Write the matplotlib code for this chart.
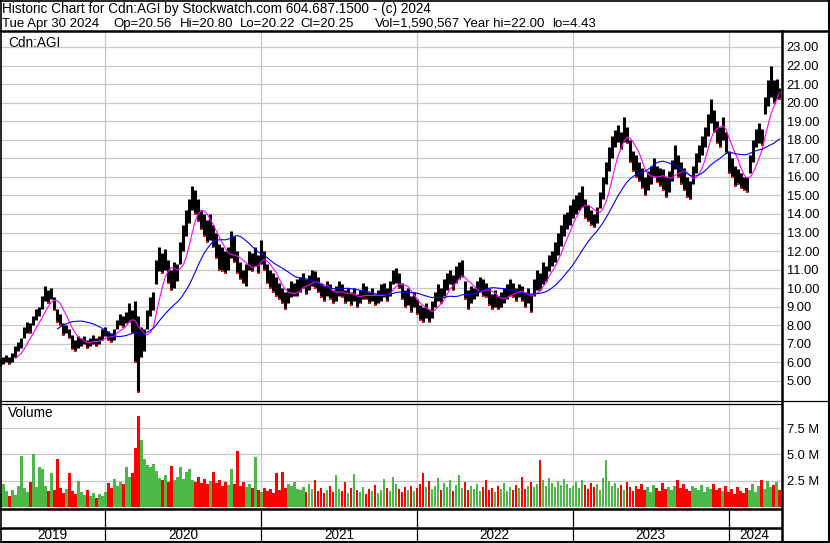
import numpy as np
import pandas as pd
import matplotlib
matplotlib.use('Agg')
import matplotlib.pyplot as plt
import matplotlib.dates as mdates
from matplotlib.lines import Line2D

W, H = 830, 543

title_line = 'Historic Chart for Cdn:AGI by Stockwatch.com 604.687.1500 - (c) 2024'
info_items = ['Tue Apr 30 2024', 'Op=20.56', 'Hi=20.80', 'Lo=20.22', 'Cl=20.25',
              'Vol=1,590,567', 'Year hi=22.00', 'lo=4.43']
info_px = [2, 113, 180, 240, 300, 375, 463, 552]
symbol = 'Cdn:AGI'

# weekly highs / lows (May 2019 .. Apr 2024)
high = [6.2, 6.3, 6.4, 6.3, 6.5, 6.9, 7.1, 7.3, 7.9, 8.2, 8.1, 8.5, 8.9, 9.0, 9.6, 10.1, 9.9, 10.0,
        9.5, 8.9, 8.6, 8.1, 8.0, 7.8, 7.5, 7.2, 7.4, 7.3, 7.4, 7.2, 7.3, 7.5, 7.3, 7.4, 7.8, 7.9,
        7.7, 7.6, 7.8, 8.3, 8.6, 8.5, 8.7, 9.2, 8.8, 9.3, 8.5, 7.9, 7.8, 8.8, 9.5, 9.8,
        11.5, 12.2, 11.9, 12.1, 11.5, 11.0, 11.4, 11.3, 12.5, 13.4, 14.2, 14.8, 15.5, 15.3, 14.8,
        14.2, 14.0, 13.7, 14.0, 13.4, 13.0, 12.4, 12.2, 12.0, 12.2, 13.1, 12.8, 12.0, 11.4, 11.0,
        11.3, 12.0, 11.9, 12.2, 11.8, 12.6, 12.0, 11.3, 11.0, 10.8, 10.6, 10.3, 10.0, 9.8, 10.0,
        10.4, 10.3, 10.5,
        10.6, 10.8, 10.5, 10.7, 11.0, 10.9, 10.6, 10.3, 10.1, 10.4, 10.2, 9.9, 10.1, 10.4, 10.2,
        9.9, 10.0, 9.8, 10.0, 9.7, 9.9, 10.3, 10.1, 9.8, 10.0, 9.7, 9.9, 10.2, 10.3, 10.0, 10.4,
        11.0, 11.1, 10.8, 10.3, 9.9, 10.0, 9.6, 9.8,
        9.4, 9.1, 9.0, 9.2, 8.9, 9.3, 9.8, 10.2, 10.0, 10.5, 10.8, 11.0, 10.7, 11.2, 11.4, 11.5,
        10.4, 9.9, 10.1, 10.0, 10.4, 10.6, 10.5, 10.3, 10.0, 9.7, 9.9, 9.6, 9.8, 10.0, 10.2, 10.5,
        10.3, 10.0, 10.2, 10.1, 9.8, 10.0, 9.7, 10.5, 11.0, 10.8, 11.4, 11.2, 11.8, 12.0, 12.5,
        13.0, 13.4, 14.0, 14.1, 14.5,
        14.8, 15.0, 15.2, 15.5, 14.8, 14.5, 14.2, 14.0, 14.4, 15.2, 16.0, 16.8, 17.6, 18.2, 18.5,
        18.8, 18.4, 19.2, 18.7, 18.0, 17.4, 17.2, 16.8, 16.5, 16.0, 16.3, 16.6, 17.0, 16.6, 16.5,
        16.4, 16.0, 16.3, 16.9, 17.7, 17.2, 16.8, 16.5, 16.0, 15.8, 16.6, 17.3, 17.7, 18.2, 18.7,
        19.4, 20.2, 19.6, 19.0, 18.7, 19.2, 18.4, 17.4,
        17.0, 16.6, 16.4, 16.2, 16.0, 16.0, 17.2, 18.0, 18.6, 18.9, 18.6, 20.3, 21.2, 22.0, 21.2,
        21.3, 20.8]
low = [5.8, 5.9, 6.0, 5.9, 6.0, 6.3, 6.6, 6.8, 7.3, 7.6, 7.6, 8.0, 8.3, 8.5, 8.9, 9.3, 9.2, 9.4,
       8.8, 8.2, 8.0, 7.5, 7.6, 7.3, 6.7, 6.6, 6.8, 6.9, 7.0, 6.8, 6.9, 7.0, 6.9, 7.0, 7.2, 7.4,
       7.2, 7.1, 7.2, 7.8, 8.0, 7.9, 8.1, 8.2, 7.6, 6.0, 4.43, 6.3, 6.6, 7.8, 8.5, 8.8,
       10.2, 10.9, 10.8, 11.0, 10.3, 9.9, 10.0, 10.4, 11.3, 12.0, 12.8, 13.5, 14.2, 14.0, 13.6,
       13.2, 12.8, 12.5, 12.6, 12.2, 11.6, 11.0, 10.9, 10.8, 11.0, 11.6, 11.4, 10.8, 10.5, 10.3,
       10.1, 11.0, 10.9, 11.2, 10.8, 11.3, 11.0, 10.3, 10.0, 9.8, 9.6, 9.4, 9.2, 8.9, 9.2,
       9.5, 9.6, 9.6,
       9.8, 10.0, 9.7, 9.9, 10.1, 10.0, 9.8, 9.5, 9.3, 9.6, 9.4, 9.2, 9.3, 9.6, 9.5,
       9.2, 9.3, 9.1, 9.3, 9.0, 9.2, 9.4, 9.4, 9.2, 9.3, 9.1, 9.2, 9.3, 9.5, 9.3, 9.6,
       10.2, 10.3, 10.0, 9.4, 9.0, 9.1, 8.7, 9.0,
       8.6, 8.3, 8.2, 8.4, 8.2, 8.4, 9.0, 9.3, 9.2, 9.6, 9.9, 10.2, 9.9, 10.3, 10.5, 10.6,
       9.4, 8.9, 9.2, 9.4, 9.6, 9.8, 9.6, 9.5, 9.1, 8.9, 9.0, 8.9, 9.0, 9.2, 9.4, 9.6,
       9.5, 9.3, 9.5, 9.3, 9.0, 9.2, 8.7, 9.6, 9.9, 9.9, 10.2, 10.4, 10.9, 11.2, 11.4,
       11.8, 12.3, 12.8, 13.2, 13.4,
       13.8, 14.0, 14.2, 14.4, 13.8, 13.6, 13.4, 13.3, 13.5, 14.3, 14.8, 15.6, 16.3, 17.0, 17.6,
       17.9, 17.5, 17.9, 17.8, 16.8, 16.3, 16.0, 15.8, 15.4, 15.0, 15.3, 15.6, 16.0, 15.7, 15.5,
       15.3, 14.9, 15.2, 15.8, 16.4, 16.0, 15.6, 15.3, 14.9, 14.8, 15.6, 16.2, 16.8, 17.2, 17.6,
       18.2, 18.9, 18.4, 17.8, 17.6, 18.0, 17.3, 16.2,
       16.0, 15.5, 15.6, 15.4, 15.3, 15.2, 16.2, 16.8, 17.6, 17.8, 17.7, 19.4, 19.8, 20.3, 20.0,
       20.2, 20.2]

# weekly volume, millions of shares
volume_m = [1.2, 2.2, 1.5, 1.0, 1.6, 1.1, 2.0, 4.9, 1.8, 1.4, 2.4, 5.0, 1.9, 3.8, 3.6, 2.0, 1.5,
            3.2, 1.6, 4.6, 1.8, 1.3, 1.7, 3.2, 1.5, 1.2, 2.5, 1.4, 1.1, 1.6, 1.0, 1.3, 0.9, 1.2, 1.0,
            1.4, 2.3, 1.8, 2.7, 2.0, 2.4, 2.2, 3.8, 2.9, 3.2, 5.6, 8.7, 6.4, 4.6, 4.0, 3.8, 4.1,
            3.4, 2.8, 2.6, 3.0, 2.4, 3.9, 2.6, 2.9, 3.8, 2.7, 3.3, 3.6, 2.6, 2.4, 2.9, 2.3, 2.7,
            2.2, 2.5, 3.3, 2.3, 2.6, 2.0, 2.4, 2.1, 3.6, 2.2, 5.3, 2.0, 2.4, 1.9, 2.2, 1.8, 4.8,
            1.6, 1.4, 1.8, 1.5, 1.7, 1.3, 3.2, 1.6, 3.3, 1.8, 2.2, 2.0, 2.4, 1.7,
            1.6, 1.9, 1.4, 2.2, 1.7, 2.6, 1.5, 1.8, 1.3, 1.6, 2.0, 1.4, 3.0, 1.7, 1.5, 2.4, 1.3,
            1.8, 3.1, 1.6, 1.4, 1.9, 1.2, 1.7, 1.5, 2.1, 1.3, 1.6, 2.7, 1.8, 1.5, 2.9, 2.2, 1.7,
            1.4, 1.9, 1.6, 2.0, 1.5,
            1.8, 2.2, 3.2, 1.9, 2.5, 1.7, 2.0, 2.8, 1.6, 2.3, 1.9, 2.6, 1.5, 2.1, 3.0, 1.8, 2.4,
            1.6, 2.0, 1.7, 2.2, 1.5, 1.9, 2.6, 1.6, 1.8, 1.4, 2.0, 1.7, 2.3, 1.5, 1.9, 1.6, 2.1,
            1.8, 2.9, 1.7, 2.0, 2.4, 1.9, 2.2, 4.5, 2.6, 2.0, 2.8, 2.3, 1.9, 2.5, 2.1, 2.7, 2.2, 1.8,
            2.0, 2.4, 1.8, 2.6, 2.1, 1.7, 2.3, 1.9, 2.2, 1.6, 2.8, 4.5, 2.5, 2.0, 2.3, 1.8, 2.1,
            1.6, 2.4, 1.9, 1.5, 2.0, 1.7, 2.2, 1.6, 1.9, 1.4, 2.1, 1.8, 1.5, 2.3, 1.7, 1.9, 1.6,
            2.0, 2.6, 1.8, 2.2, 1.7, 1.5, 2.0, 1.8, 1.6, 2.1, 1.4, 1.9, 1.7, 2.2, 1.6, 1.8, 1.5, 2.0,
            1.4, 1.7, 1.2, 1.9, 1.5, 1.3, 1.8, 1.6, 2.2, 1.4, 2.0, 2.6, 1.7, 2.5, 1.9, 2.1, 2.4, 1.6]

price_ticks = list(range(5, 24))
vol_ticks = [2.5, 5.0, 7.5]
years = [2019, 2020, 2021, 2022, 2023, 2024]


def fx(px):
    return px / W


def fy(py):
    return 1 - py / H


plt.rcParams['font.family'] = ['Liberation Sans', 'DejaVu Sans']
FS = 9.3

dates = pd.date_range('2019-05-01', '2024-04-30', periods=len(high))
x = mdates.date2num(dates)
xmin, xmax = mdates.date2num(pd.Timestamp('2019-04-30')), mdates.date2num(pd.Timestamp('2024-05-03'))
year_starts = [mdates.date2num(pd.Timestamp(f'{y}-01-01')) for y in years[1:]]

hi = np.array(high)
lo = np.array(low)
mid = pd.Series((hi + lo) / 2)
ma_fast = mid.rolling(6).mean()
ma_slow = mid.rolling(20).mean()
up = np.r_[True, np.diff(mid.values) >= 0]

fig = plt.figure(figsize=(W / 100, H / 100), dpi=100)
fig.patch.set_facecolor('white')

# price panel
ax = fig.add_axes([fx(0), fy(401), fx(781), (401 - 31) / H])
ax.vlines(x, lo, hi, color='black', lw=2.2)
ax.plot(x[~up], lo[~up], 's', color='#ff0000', ms=1.6, mew=0)
ax.plot(x, ma_fast, color='#ff00ff', lw=0.8)
ax.plot(x, ma_slow, color='#0000ff', lw=0.8)
ax.set_xlim(xmin, xmax)
ax.set_ylim(3.92, 23.86)
ax.set_yticks(price_ticks)
ax.set_yticklabels([f'{v:.2f}' for v in price_ticks], fontsize=FS)
ax.set_xticks(year_starts)
ax.set_xticklabels([])
ax.yaxis.tick_right()
ax.tick_params(length=0, pad=4)
ax.grid(True, color='#c8c8c8', lw=0.9)
ax.set_axisbelow(True)
for s in ax.spines.values():
    s.set_visible(False)

# volume panel
axv = fig.add_axes([fx(0), fy(507), fx(781), (507 - 403) / H])
colors = np.where(up, '#4cb848', '#ff0000')
axv.bar(x, volume_m, width=(x[1] - x[0]) * 0.9, color=colors, linewidth=0)
axv.set_xlim(xmin, xmax)
axv.set_ylim(0, 9.9)
axv.set_yticks(vol_ticks)
axv.set_yticklabels([f'{v:.1f} M' for v in vol_ticks], fontsize=FS)
axv.set_xticks(year_starts)
axv.set_xticklabels([])
axv.yaxis.tick_right()
axv.tick_params(length=0, pad=4)
axv.grid(True, color='#c8c8c8', lw=0.9)
axv.set_axisbelow(True)
for s in axv.spines.values():
    s.set_visible(False)

# year strip
axy = fig.add_axes([fx(0), fy(541), fx(781), (541 - 509) / H])
axy.set_xlim(xmin, xmax)
axy.set_ylim(0, 1)
axy.axis('off')
for xs in year_starts:
    axy.axvline(xs, color='black', lw=0.9)
edges = [xmin] + year_starts + [xmax]
for i, yr in enumerate(years):
    axy.text((edges[i] + edges[i + 1]) / 2, 0.2, str(yr), ha='center', va='center', fontsize=9.8)

# header
fig.text(fx(2), fy(12.8), title_line, fontsize=9.8, va='baseline', ha='left')
for item, px in zip(info_items, info_px):
    fig.text(fx(px), fy(27), item, fontsize=9.5, va='baseline', ha='left')
fig.text(fx(8), fy(43), symbol, fontsize=9.8, va='center', ha='left')
fig.text(fx(8), fy(413), 'Volume', fontsize=9.8, va='center', ha='left')


def hline(py, x0, x1, lw):
    fig.add_artist(Line2D([fx(x0), fx(x1)], [fy(py), fy(py)], color='black', lw=lw,
                          transform=fig.transFigure))


def vline(px, y0, y1, lw):
    fig.add_artist(Line2D([fx(px), fx(px)], [fy(y0), fy(y1)], color='black', lw=lw,
                          transform=fig.transFigure))


hline(0.5, 0, 830, 1.2)
hline(30.5, 0, 830, 1.8)
hline(401, 0, 830, 0.9)
hline(403.5, 0, 781, 0.9)
hline(509, 0, 781, 1.8)
hline(527.5, 0, 781, 1.8)
hline(541.5, 0, 830, 1.5)
vline(0.5, 0, 543, 1.2)
vline(829.3, 0, 543, 1.5)
vline(781.5, 31, 542, 1.8)

fig.savefig('out.png', dpi=100)
